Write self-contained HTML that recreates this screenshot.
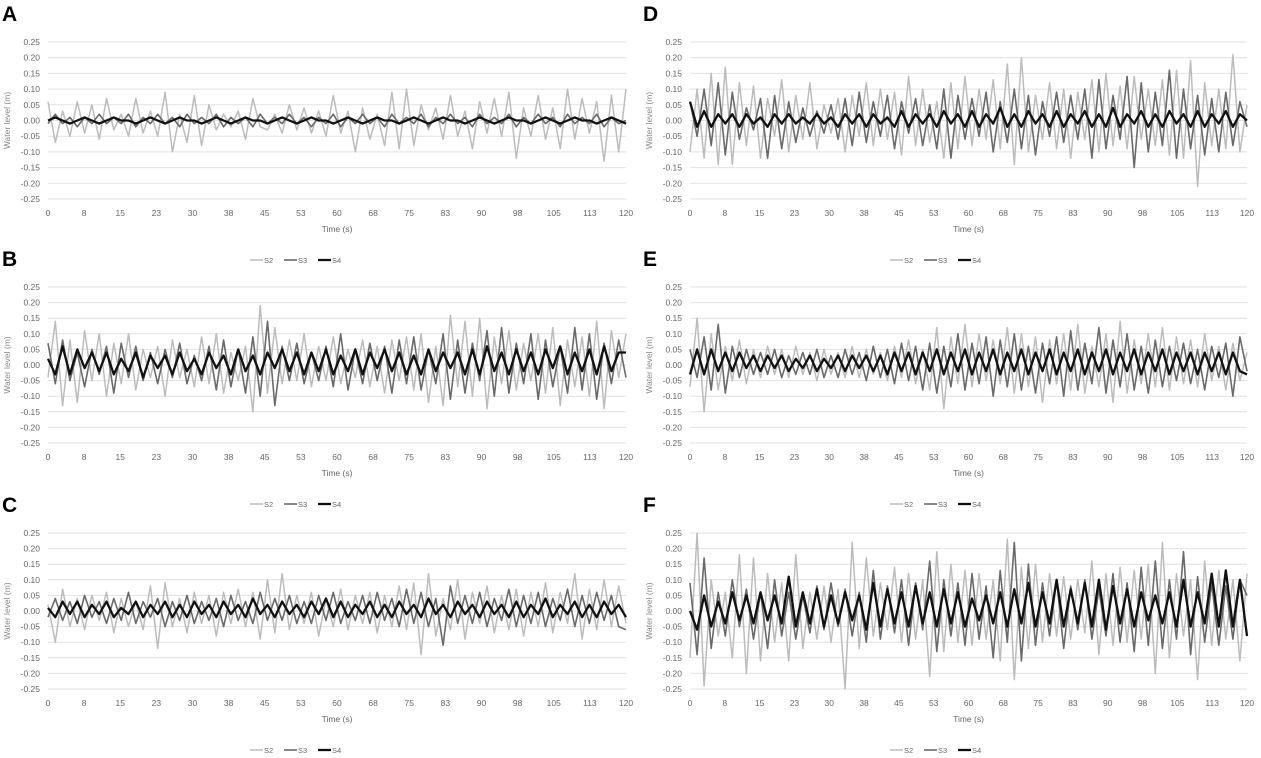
<!DOCTYPE html>
<html><head><meta charset="utf-8"><style>
body{margin:0;background:#fff;width:1261px;height:758px;overflow:hidden;font-family:"Liberation Sans",sans-serif}
svg{display:block}
</style></head><body>
<svg id="c" width="1261" height="758"></svg>
<script>
const timeTicks=[0,8,15,23,30,38,45,53,60,68,75,83,90,98,105,113,120];
const yTicks=[0.25,0.20,0.15,0.10,0.05,0.00,-0.05,-0.10,-0.15,-0.20,-0.25];
const seriesNames=["S2","S3","S4"];
const panelLetters=["A","B","C","D","E","F"];
// values in cm (divided by 100 to get m)
const A_S2=[6,-7,3,-5,6,-4,5,-6,7,-3,2,-5,7,-4,3,-5,9,-10,2,-7,8,-8,5,-3,2,-2,3,-6,7,-2,-3,2,-4,5,-3,4,-4,3,-5,8,-4,3,-10,4,-6,2,-8,9,-9,10,-8,5,-3,4,-6,8,-5,3,-9,6,-4,7,-5,9,-12,4,-5,8,-6,4,-9,10,-6,7,-4,6,-13,8,-10,10];
const A_S3=[-1,2,-1,1,-2,1,-1,2,-1,1,-1,2,-2,1,-1,2,-1,1,-2,2,-1,1,-1,2,-2,1,-1,1,-2,2,-1,1,-1,2,-1,1,-2,1,-1,2,-2,1,-1,2,-1,1,-2,2,-1,1,-1,2,-2,1,-1,2,-1,1,-2,2,-1,1,-1,2,-2,1,-1,2,-1,1,-2,2,-1,1,-1,2,-2,1,-1,0];
const A_S4=[0,1,0,-1,0,1,0,-1,0,1,0,0,-1,0,1,0,-1,0,1,0,0,-1,0,1,0,-1,0,1,0,0,-1,0,1,0,-1,0,1,0,0,-1,0,1,0,-1,0,1,0,0,-1,0,1,0,-1,0,1,0,0,-1,0,1,0,-1,0,1,0,0,-1,0,1,0,-1,0,1,0,0,-1,0,1,0,-1];
const B_S2=[-4,14,-13,8,-12,11,-5,10,-10,7,-6,10,-8,5,-4,6,-10,8,-4,5,-7,9,-6,10,-9,4,-5,6,-15,19,-9,12,-6,8,-5,10,-7,6,-5,9,-6,5,-4,8,-7,6,-9,8,-5,9,-8,10,-12,6,-13,16,-7,14,-10,15,-14,9,-6,11,-8,7,-5,10,-9,12,-13,8,-7,9,-10,14,-14,11,-4,10];
const B_S3=[7,-6,8,-5,4,-7,5,-3,6,-9,7,-4,6,-5,4,-6,5,-4,7,-6,3,-5,6,-8,8,-7,5,-9,9,-10,14,-13,6,-5,7,-6,4,-5,6,-7,10,-8,5,-6,7,-5,6,-9,8,-6,9,-8,5,-6,10,-11,8,-9,7,-5,11,-10,12,-9,7,-6,10,-11,8,-7,6,-9,12,-8,10,-11,7,-6,8,-4];
const B_S4=[2,-3,6,-3,5,-1,4,-2,4,-3,2,-2,4,-4,3,-1,3,-3,4,-2,2,-3,4,-1,3,-3,5,-2,3,-3,4,-1,5,-2,4,-3,4,-2,5,-3,3,-2,5,-3,4,-1,5,-2,4,-3,3,-3,5,-2,4,-1,4,-3,5,-3,6,-2,4,-3,5,-2,4,-3,5,-1,6,-3,4,-2,5,-3,6,-2,4,4];
const C_S2=[2,-10,7,-5,4,-6,5,-3,6,-7,4,-5,3,-6,8,-12,9,-5,4,-7,6,-4,5,-8,6,-4,7,-5,6,-9,10,-7,12,-6,5,-4,6,-8,4,-5,7,-6,5,-4,6,-7,5,-5,8,-6,9,-14,12,-8,4,-6,10,-9,6,-4,8,-7,5,-6,7,-8,6,-5,9,-7,6,-4,12,-9,7,-6,10,-5,8,-4];
const C_S3=[-2,4,-3,3,-4,5,-2,3,-4,4,-3,6,-4,3,-2,4,-5,3,-3,5,-4,3,-3,4,-5,5,-3,3,-4,6,-3,4,-3,5,-4,3,-4,5,-3,6,-4,3,-3,5,-4,6,-3,4,-5,7,-4,6,-5,4,-11,8,-4,5,-4,6,-5,4,-3,7,-5,5,-4,6,-5,4,-3,7,-5,5,-4,6,-3,5,-5,-6];
const C_S4=[1,-2,3,-1,3,-2,2,-1,3,-2,1,-1,3,-2,2,-1,3,-2,2,-2,3,-1,2,-2,3,-1,2,-2,4,-1,2,-2,3,-1,2,-2,3,-1,4,-2,3,-2,2,-1,3,-2,2,-2,3,-1,2,-2,4,-1,2,-2,3,-1,2,-2,3,-1,2,-2,3,-2,2,-1,4,-2,2,-1,3,-2,2,-2,3,-1,2,-2];
const D_S2=[-10,10,-12,15,-14,17,-14,12,-8,11,-12,7,-5,13,-10,8,-6,12,-9,5,-4,7,-10,8,-5,12,-8,10,-6,9,-11,14,-8,10,-7,6,-12,12,-9,14,-8,10,-6,13,-9,18,-14,20,-10,8,-6,12,-9,10,-12,9,-6,13,-10,15,-8,11,-9,14,-6,10,-8,13,-11,16,-12,19,-21,12,-8,10,-9,21,-10,5];
const D_S3=[6,-5,10,-8,12,-11,9,-6,4,-3,7,-12,8,-9,6,-7,4,-5,3,-4,5,-6,7,-8,9,-7,6,-5,8,-9,6,-4,7,-8,5,-9,10,-12,8,-6,7,-5,9,-10,6,-7,10,-9,8,-11,6,-5,9,-7,8,-6,10,-12,13,-9,8,-6,14,-15,12,-10,9,-8,16,-12,10,-9,8,-11,7,-10,9,-8,6,-2];
const D_S4=[6,-2,3,-2,2,-1,2,-2,2,-1,1,-2,2,-1,2,-1,1,-1,2,-1,1,-2,2,-1,2,-2,2,-1,1,-2,3,-2,2,-1,2,-2,3,-1,2,-2,3,-2,2,-1,4,-2,2,-2,3,-1,2,-2,3,-2,2,-1,3,-2,2,-2,4,-2,2,-1,3,-2,2,-2,3,-1,2,-2,3,-2,2,-1,3,-2,2,0];
const E_S2=[-7,15,-15,10,-8,6,-5,8,-6,5,-4,6,-3,5,-4,6,-3,4,-5,5,-3,4,-4,6,-4,5,-3,4,-5,6,-4,8,-6,5,-8,12,-14,9,-6,13,-7,10,-5,8,-6,12,-9,10,-7,9,-12,8,-6,10,-8,13,-9,6,-7,10,-12,14,-9,8,-6,10,-7,12,-8,9,-6,8,-7,10,-5,6,-8,7,-5,4];
const E_S3=[5,-4,9,-8,13,-9,6,-4,5,-3,4,-3,5,-4,3,-3,4,-3,5,-4,3,-4,5,-3,4,-5,6,-4,5,-6,7,-5,6,-8,7,-9,6,-7,10,-8,7,-6,9,-10,8,-7,10,-8,6,-9,7,-6,9,-10,11,-8,7,-6,12,-9,8,-7,10,-8,6,-9,8,-7,6,-5,7,-6,5,-8,6,-4,7,-10,9,-2];
const E_S4=[-3,5,-3,5,-2,4,-2,4,-1,3,-2,3,-1,3,-2,2,-1,3,-2,2,-1,3,-2,3,-1,3,-2,3,-3,4,-2,4,-3,4,-2,5,-3,4,-2,5,-3,4,-2,5,-3,4,-2,5,-3,4,-2,5,-3,4,-2,5,-3,4,-2,5,-3,4,-2,5,-3,4,-2,5,-3,4,-2,4,-3,4,-2,4,-3,4,-2,-3];
const F_S2=[-15,25,-24,10,-8,6,-15,18,-20,17,-16,12,-10,9,-16,18,-12,6,-9,8,-10,7,-25,22,-12,17,-8,9,-6,14,-10,12,-9,10,-21,19,-13,15,-10,13,-11,12,-9,10,-16,23,-22,14,-12,15,-10,12,-8,11,-9,10,-7,16,-14,12,-11,14,-10,13,-9,15,-20,22,-15,12,-8,10,-22,16,-11,13,-9,10,-16,12];
const F_S3=[9,-14,17,-12,6,-8,10,-5,7,-9,6,-12,10,-8,6,-9,5,-7,8,-6,9,-5,7,-8,6,-10,13,-9,8,-7,10,-11,9,-6,16,-13,10,-8,9,-11,12,-9,8,-15,13,-10,22,-16,15,-11,9,-8,10,-12,8,-6,10,-9,7,-8,12,-10,9,-13,14,-11,16,-12,10,-9,19,-14,11,-10,9,-11,8,-9,10,5];
const F_S4=[0,-6,5,-5,3,-4,6,-3,5,-4,6,-3,5,-4,11,-5,6,-4,7,-5,5,-4,6,-3,5,-6,9,-5,7,-4,6,-5,8,-4,6,-5,7,-4,6,-5,4,-3,5,-4,6,-5,7,-4,9,-5,6,-4,10,-5,7,-4,9,-5,10,-6,8,-4,7,-5,6,-3,5,-4,6,-5,10,-5,6,-4,12,-5,13,-5,10,-8];
const panelData=[[A_S2,A_S3,A_S4],[B_S2,B_S3,B_S4],[C_S2,C_S3,C_S4],[D_S2,D_S3,D_S4],[E_S2,E_S3,E_S4],[F_S2,F_S3,F_S4]];

const NS="http://www.w3.org/2000/svg";
const svg=document.getElementById('c');
function mk(t,a,p){const e=document.createElementNS(NS,t);for(const k in a)e.setAttribute(k,a[k]);(p||svg).appendChild(e);return e;}
const colors=["#bcbcbc","#6a6a6a","#111"];
const widths=[1.5,1.6,2.3];
const cols=[{x0:48,x1:626,letX:2,legX:250},{x0:690,x1:1247,letX:643,legX:890}];
const rows=[{t:42,b:199},{t:287,b:443},{t:533,b:689}];
for(let p=0;p<6;p++){
  const c=cols[Math.floor(p/3)],r=rows[p%3];
  const g=mk('g',{});
  
  
  const xs=t=>c.x0+(t/120)*(c.x1-c.x0);
  const ys=v=>r.t+(0.25-v)/0.5*(r.b-r.t);
  const L=mk('text',{x:c.letX,y:r.t-21,'font-size':21,'font-weight':'bold',fill:'#000'},g);L.textContent=panelLetters[p];
  
  yTicks.forEach(v=>{
    const gl=mk('line',{x1:c.x0,x2:c.x1,y1:ys(v),y2:ys(v),stroke:'#e2e2e2','stroke-width':1},g);
    
    const tx=mk('text',{x:c.x0-8,y:ys(v)+3,'font-size':8.5,fill:'#666','text-anchor':'end'},g);tx.textContent=v.toFixed(2);
    
  });
  timeTicks.forEach((t,i)=>{
    const tx=mk('text',{x:xs(i*7.5),y:r.b+17,'font-size':8.5,fill:'#666','text-anchor':'middle'},g);tx.textContent=t;
    
  });
  const xt=mk('text',{x:(c.x0+c.x1)/2,y:r.b+33,'font-size':8.5,fill:'#666','text-anchor':'middle'},g);xt.textContent='Time (s)';
  
  const yt=mk('text',{x:0,y:0,'font-size':8.5,fill:'#888','text-anchor':'middle',transform:`translate(${c.x0-38},${(r.t+r.b)/2}) rotate(-90)`},g);yt.textContent='Water level (m)';
  
  panelData[p].forEach((arr,s)=>{
    const n=arr.length;
    const d=arr.map((v,i)=>(i?'L':'M')+xs(i*120/(n-1)).toFixed(1)+','+ys(v/100).toFixed(1)).join('');
    const pa=mk('path',{d:d,fill:'none',stroke:colors[s],'stroke-width':widths[s],'stroke-linejoin':'round'},g);
    
  });
  const ly=r.b+61;
  seriesNames.forEach((nm,s)=>{
    const lx=c.legX+s*34;
    const ll=mk('line',{x1:lx,x2:lx+13,y1:ly,y2:ly,stroke:colors[s],'stroke-width':widths[s]},g);
    
    const lt=mk('text',{x:lx+14,y:ly+3,'font-size':7.5,fill:'#666'},g);lt.textContent=nm;
    
  });
}
</script>
</body></html>
